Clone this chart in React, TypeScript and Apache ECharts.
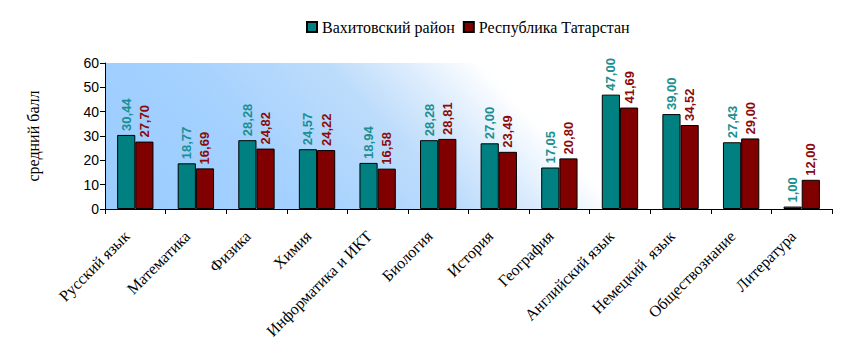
import React, { useEffect, useRef } from "react";
import * as echarts from "echarts";

const categories = [
  "Русский язык",
  "Математика",
  "Физика",
  "Химия",
  "Информатика и ИКТ",
  "Биология",
  "История",
  "География",
  "Английский язык",
  "Немецкий  язык",
  "Обществознание",
  "Литература",
];
const districtName = "Вахитовский район";
const republicName = "Республика Татарстан";
const districtValues = [30.44, 18.77, 28.28, 24.57, 18.94, 28.28, 27.0, 17.05, 47.0, 39.0, 27.43, 1.0];
const republicValues = [27.7, 16.69, 24.82, 24.22, 16.58, 28.81, 23.49, 20.8, 41.69, 34.52, 29.0, 12.0];
const yTicks = { min: 0, max: 60, interval: 10 };
const yAxisName = "средний балл";

const fmt = (v: number) => v.toFixed(2).replace(".", ",");

export default function App() {
  const ref = useRef<HTMLDivElement>(null);
  useEffect(() => {
    document.body.style.margin = "0";
    const chart = echarts.init(ref.current!, undefined, { renderer: "svg" });
    const serif = "Liberation Serif";
    const sans = "Liberation Sans";
    const labelCommon = (color: string) => ({
      show: true,
      position: "top",
      rotate: 90,
      align: "left",
      verticalAlign: "middle",
      distance: 4,
      color,
      fontFamily: sans,
      fontWeight: "bold",
      fontSize: 13,
      formatter: (p: any) => fmt(p.value),
    });
    chart.setOption({
      animation: false,
      backgroundColor: "#ffffff",
      legend: {
        top: 14,
        left: 301,
        itemWidth: 10,
        itemHeight: 10,
        itemGap: 8,
        icon: "rect",
        textStyle: { fontFamily: serif, fontSize: 16, color: "#000" },
        data: [districtName, republicName],
      },
      grid: {
        left: 105,
        right: 18,
        top: 63,
        bottom: 154,
        show: true,
        borderWidth: 0,
        backgroundColor: {
          type: "linear",
          global: true,
          x: 105,
          y: 209,
          x2: 374,
          y2: -48,
          colorStops: [
            { offset: 0, color: "#99ccff" },
            { offset: 0.4, color: "#a4d1ff" },
            { offset: 0.7, color: "#bddcfb" },
            { offset: 0.85, color: "#dcecfd" },
            { offset: 1, color: "#ffffff" },
          ],
        },
      },
      xAxis: {
        type: "category",
        data: categories,
        axisLine: { lineStyle: { color: "#000", width: 1 } },
        axisTick: { show: true, alignWithLabel: false, length: 5, lineStyle: { color: "#000" } },
        axisLabel: {
          rotate: 45,
          interval: 0,
          margin: 16,
          padding: [0, 12, 0, 0],
          color: "#000",
          fontFamily: serif,
          fontSize: 16,
        },
      },
      yAxis: {
        type: "value",
        min: yTicks.min,
        max: yTicks.max,
        interval: yTicks.interval,
        name: yAxisName,
        nameLocation: "middle",
        nameGap: 64,
        nameRotate: 90,
        nameTextStyle: { fontFamily: serif, fontSize: 16, color: "#000" },
        axisLine: { show: true, lineStyle: { color: "#000", width: 1 } },
        axisTick: { show: true, length: 5, lineStyle: { color: "#000" } },
        axisLabel: { color: "#000", fontFamily: sans, fontSize: 14, margin: 6 },
        splitLine: { show: false },
      },
      series: [
        {
          name: districtName,
          type: "bar",
          data: districtValues,
          barGap: "0%",
          barCategoryGap: "40%",
          itemStyle: { color: "#008080", borderColor: "#000", borderWidth: 1 },
          label: labelCommon("#1a8f8f"),
        },
        {
          name: republicName,
          type: "bar",
          data: republicValues,
          barGap: "0%",
          barCategoryGap: "40%",
          itemStyle: { color: "#800000", borderColor: "#000", borderWidth: 1 },
          label: labelCommon("#8b0a0a"),
        },
      ],
    });
    return () => chart.dispose();
  }, []);
  return <div ref={ref} style={{ width: 850, height: 363 }} />;
}
